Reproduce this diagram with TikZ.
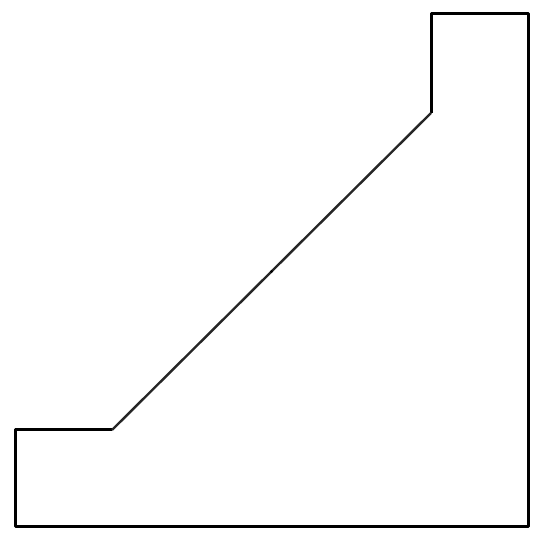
\documentclass[tikz,border=0pt]{standalone}
\usepackage{tikz}
\usetikzlibrary{calc}

\begin{document}
\begin{tikzpicture}[x=1pt,y=1pt,
            wall/.style={black, line width=3pt, line join=round},
            slope/.style={black!85, line width=2.4pt}]
        \useasboundingbox (0,0) rectangle (544,548);
        \coordinate (bl) at (15,21);   \coordinate (lt) at (15,118);
        \coordinate (lf) at (112,118); \coordinate (ut) at (431,435);
        \coordinate (tl) at (431,534); \coordinate (tr) at (528,534);
        \coordinate (br) at (528,21);
        \coordinate (mid) at ($(lf)!0.5!(ut)$);
        \draw[wall] (lf) -- (lt) -- (bl) -- (br) -- (tr) -- (tl) -- (ut);
        \draw[slope] (lf) -- (mid) (mid) -- (ut);
        \fill[black] (mid) circle (1.6pt);
      \end{tikzpicture}
\end{document}
